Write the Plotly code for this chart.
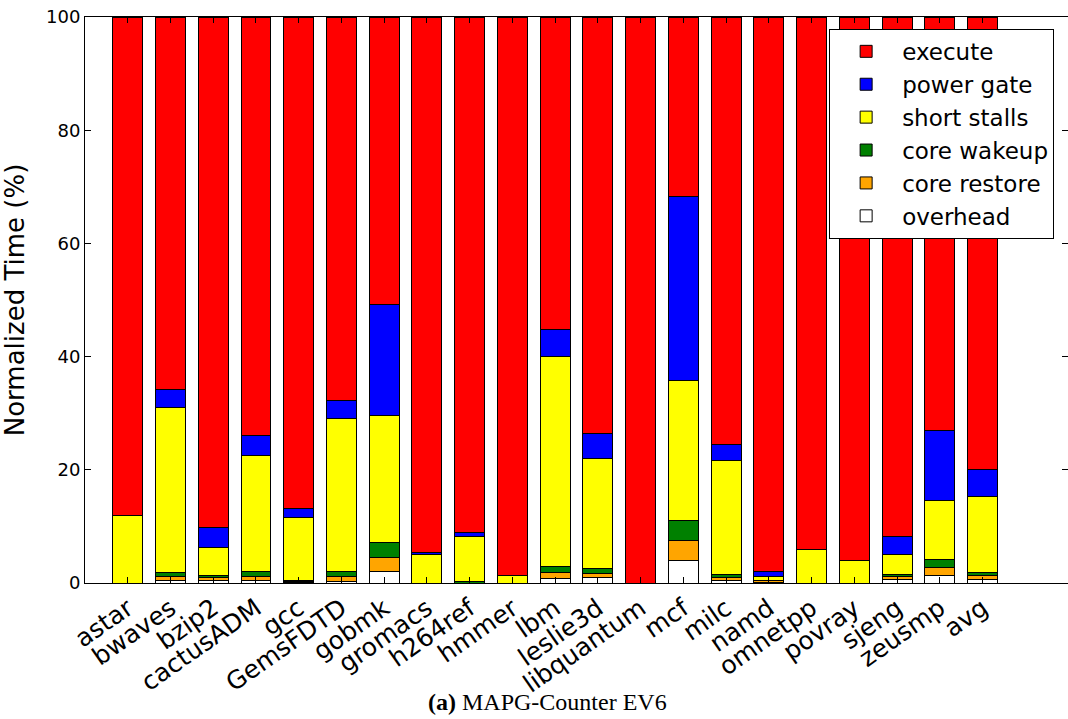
import plotly.graph_objects as go

categories = ["astar", "bwaves", "bzip2", "cactusADM", "gcc", "GemsFDTD", "gobmk",
              "gromacs", "h264ref", "hmmer", "lbm", "leslie3d", "libquantum", "mcf",
              "milc", "namd", "omnetpp", "povray", "sjeng", "zeusmp", "avg"]

overhead = [0, 0.5, 0.5, 0.5, 0.1, 0.2, 2.0, 0, 0, 0, 0.8, 0.9, 0, 4.0, 0.5, 0.1, 0, 0, 0.7, 1.4, 0.7]
core_restore = [0, 0.6, 0.5, 0.7, 0.2, 1.0, 2.5, 0, 0, 0, 1.1, 0.8, 0, 3.5, 0.5, 0.3, 0, 0, 0.4, 1.3, 0.6]
core_wakeup = [0, 0.7, 0.4, 0.8, 0.2, 0.9, 2.6, 0, 0.2, 0, 1.1, 0.8, 0, 3.6, 0.5, 0.1, 0, 0, 0.4, 1.4, 0.6]
short_stalls = [12.0, 29.2, 4.8, 20.5, 11.1, 26.9, 22.5, 5.1, 8.1, 1.4, 37.1, 19.5, 0, 24.6, 20.1, 0.6, 6.0, 3.9, 3.5, 10.4, 13.4]
power_gate = [0, 3.1, 3.6, 3.6, 1.6, 3.3, 19.6, 0.3, 0.7, 0, 4.7, 4.5, 0, 32.6, 2.8, 0.9, 0, 0, 3.3, 12.4, 4.8]
execute = [88.0, 65.9, 90.2, 73.9, 86.8, 67.7, 50.8, 94.6, 91.0, 98.6, 55.2, 73.5, 100, 31.7, 75.6, 98.0, 94.0, 96.1, 91.7, 73.1, 79.9]

series = [
    ("overhead", overhead, "#ffffff"),
    ("core restore", core_restore, "#ffa500"),
    ("core wakeup", core_wakeup, "#008000"),
    ("short stalls", short_stalls, "#ffff00"),
    ("power gate", power_gate, "#0000ff"),
    ("execute", execute, "#ff0000"),
]

fig = go.Figure()
n = len(series)
for i, (name, vals, color) in enumerate(series):
    fig.add_trace(go.Bar(
        x=categories, y=vals, name=name, width=0.7, legendrank=n - i,
        marker=dict(color=color, line=dict(color="black", width=1)),
    ))

font_family = "DejaVu Sans"
fig.update_layout(
    barmode="stack",
    width=1068, height=719,
    margin=dict(l=85, r=0, t=17, b=136),
    paper_bgcolor="white", plot_bgcolor="white",
    font=dict(family=font_family, color="black"),
    showlegend=True,
    legend=dict(
        traceorder="normal",
        x=0.757, y=0.979, xanchor="left", yanchor="top",
        bgcolor="white", bordercolor="black", borderwidth=1,
        font=dict(family=font_family, size=23, color="black"),
        itemwidth=62,
    ),
    xaxis=dict(
        type="category", range=[-1, 22],
        ticks="inside", ticklen=6, tickcolor="black", tickwidth=1,
        showline=True, linecolor="black", linewidth=1, mirror="ticks",
        tickangle=-35, tickfont=dict(family=font_family, size=25, color="black"),
        showgrid=False, automargin=False,
    ),
    yaxis=dict(
        range=[0, 100], dtick=20, tick0=0,
        ticks="inside", ticklen=6, tickcolor="black", tickwidth=1,
        showline=True, linecolor="black", linewidth=1, mirror="ticks",
        tickfont=dict(family=font_family, size=18, color="black"),
        ticklabeloverflow="allow",
        showgrid=False, zeroline=False, automargin=False,
        title=dict(text="Normalized Time (%)", font=dict(family=font_family, size=26, color="black"), standoff=14),
    ),
    annotations=[
        dict(text="<b>(a)</b> MAPG-Counter EV6", xref="paper", yref="paper",
             x=0.47, y=-0.21, xanchor="center", yanchor="middle", showarrow=False,
             font=dict(family="Liberation Serif", size=24, color="black")),
    ],
)

fig.write_html("out.html", config={"displayModeBar": False},
               post_script="document.body.style.margin='0px';")
